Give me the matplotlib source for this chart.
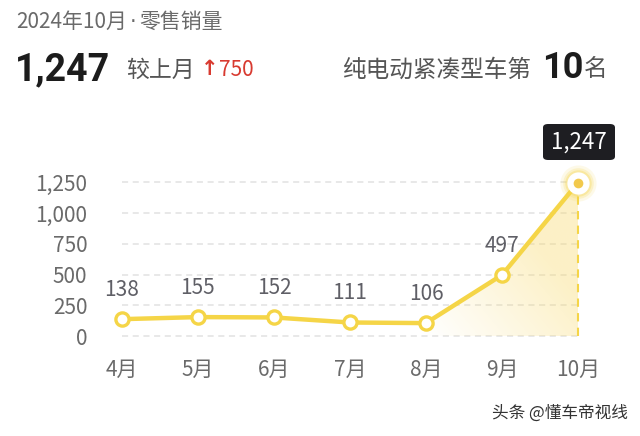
import numpy as np
import matplotlib.pyplot as plt
from matplotlib.patches import FancyBboxPatch, Polygon

plt.rcParams['font.family'] = ['Noto Sans CJK SC', 'DejaVu Sans']

months = ['4月', '5月', '6月', '7月', '8月', '9月', '10月']
sales = [138, 155, 152, 111, 106, 497, 1247]
yticks = [0, 250, 500, 750, 1000, 1250]
ytick_labels = ['0', '250', '500', '750', '1,000', '1,250']

yellow = '#F5D547'
grey = '#5f5f66'

fig = plt.figure(figsize=(6.4, 4.36), dpi=100)
fig.patch.set_facecolor('white')

# header texts
fig.text(16/640, 1-22/436, '2024年10月', fontsize=15, color='#6a6a6a', va='center', ha='left')
fig.text(133/640, 1-22/436, '·', fontsize=15, color='#6a6a6a', va='center', ha='center', family='DejaVu Sans')
fig.text(139/640, 1-22/436, '零售销量', fontsize=15, color='#6a6a6a', va='center', ha='left')
fig.text(15/640, 1-70/436, '1,247', fontsize=27, fontweight='bold', color='#1c1c1c', va='center', ha='left',
         family='Roboto')
fig.text(126/640, 1-70/436, '较上月', fontsize=16.5, color='#555555', va='center', ha='left')
fig.text(201/640, 1-69/436, '↑', fontsize=15, fontweight='bold', color='#d83a30', va='center', ha='left',
         family='DejaVu Sans')
fig.text(219/640, 1-70/436, '750', fontsize=15, color='#d83a30', va='center', ha='left')
fig.text(342/640, 1-70/436, '纯电动紧凑型车第', fontsize=17, color='#555555', va='center', ha='left')
fig.text(542/640, 1-68/436, '10', fontsize=26, fontweight='bold', color='#1c1c1c', va='center', ha='left',
         family='Roboto')
fig.text(584/640, 1-70/436, '名', fontsize=17, color='#555555', va='center', ha='left')
fig.text(628/640, 1-413/436, '头条 @懂车帝视线', fontsize=12, color='#333333', va='center', ha='right')

ax = fig.add_axes([90/640, 1-346/436, 526/640, 176/436])
x = np.arange(len(months))
ax.set_xlim(-0.42, 6.5)
ax.set_ylim(-80, 1350)
for s in ax.spines.values():
    s.set_visible(False)

ax.hlines(yticks, 0, 6, colors='#e2e2e2', linestyles=(0, (4, 3)), linewidth=1.1, zorder=1)

# gradient fill under the last segments
poly_x = [4, 5, 6, 6, 4]
poly_y = [sales[4], sales[5], sales[6], 0, 0]
clip = Polygon(list(zip(poly_x, poly_y)), closed=True, transform=ax.transData, facecolor='none', edgecolor='none')
ax.add_patch(clip)
gx, gy = np.meshgrid(np.linspace(0, 1, 200), np.linspace(0, 1, 200))
alpha = np.clip(0.55 * (0.6 * gx + 0.5 * gy), 0, 0.4)
rgba = np.zeros((200, 200, 4))
rgba[..., 0] = 0.98
rgba[..., 1] = 0.86
rgba[..., 2] = 0.45
rgba[..., 3] = alpha
im = ax.imshow(rgba, extent=[4, 6, 0, sales[6]], origin='lower', aspect='auto', zorder=2)
im.set_clip_path(clip)

ax.vlines(6, 0, sales[6], colors=yellow, linestyles=(0, (4, 3)), linewidth=1.5, zorder=2)

ax.plot(x, sales, color=yellow, linewidth=3.2, zorder=3, solid_capstyle='round')
ax.plot(x[:-1], sales[:-1], 'o', markersize=9.5, markerfacecolor='white', markeredgecolor=yellow,
        markeredgewidth=2.4, zorder=4)

# highlighted last point
for ms, a in [(26, 0.12), (22, 0.2), (19, 0.3)]:
    ax.plot(x[-1], sales[-1], 'o', markersize=ms, color=yellow, alpha=a, markeredgewidth=0, zorder=4,
            clip_on=False)
ax.plot(x[-1], sales[-1], 'o', markersize=16, markerfacecolor='white', markeredgewidth=0, zorder=5,
        clip_on=False)
ax.plot(x[-1], sales[-1], 'o', markersize=7, color='#F2C94C', markeredgewidth=0, zorder=6, clip_on=False)

for xi, v in zip(x[:-1], sales[:-1]):
    ax.annotate(str(v), (xi, v), xytext=(0, 13), textcoords='offset points', ha='center', va='bottom',
                fontsize=15, color=grey, zorder=6)

# tooltip
box = FancyBboxPatch((543/640, 1-160/436), 72/640, 36/436, boxstyle='round,pad=0,rounding_size=0.008',
                     transform=fig.transFigure, facecolor='#1e1e22', edgecolor='none', zorder=10)
fig.patches.append(box)
fig.text(579/640, 1-142/436, '{:,}'.format(sales[-1]), fontsize=16, color='white', ha='center', va='center',
         zorder=11)

ax.set_xticks(x)
ax.set_xticklabels(months, fontsize=15, color='#6a6a6a')
ax.set_yticks(yticks)
ax.set_yticklabels(ytick_labels, fontsize=15, color='#6a6a6a')
ax.tick_params(length=0)
ax.tick_params(axis='x', pad=9)
ax.tick_params(axis='y', pad=2)

fig.savefig('out.png', dpi=100)
